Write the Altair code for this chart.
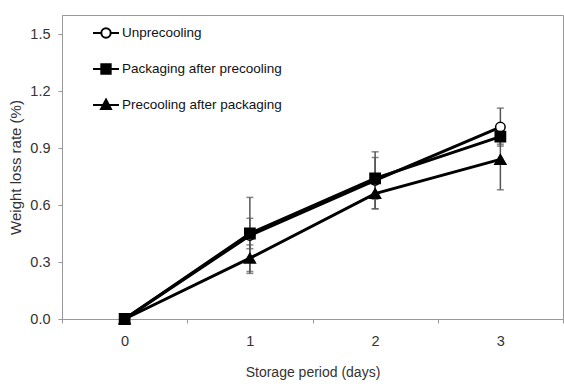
import altair as alt
import pandas as pd

days = [0, 1, 2, 3]
series_names = ["Unprecooling", "Packaging after precooling", "Precooling after packaging"]
unprecooling = [0.0, 0.44, 0.73, 1.01]
unprecooling_err = [0.0, 0.20, 0.15, 0.10]
pack_after_pre = [0.0, 0.45, 0.74, 0.96]
pack_after_pre_err = [0.0, 0.08, 0.11, 0.04]
pre_after_pack = [0.0, 0.32, 0.66, 0.84]
pre_after_pack_err = [0.0, 0.07, 0.08, 0.16]
y_ticks = [0.0, 0.3, 0.6, 0.9, 1.2, 1.5]

rows = []
for name, vals, errs in [
    (series_names[0], unprecooling, unprecooling_err),
    (series_names[1], pack_after_pre, pack_after_pre_err),
    (series_names[2], pre_after_pack, pre_after_pack_err),
]:
    for d, v, e in zip(days, vals, errs):
        rows.append({"day": d, "series": name, "value": v, "err": e,
                     "lo": v - e, "hi": v + e})
df = pd.DataFrame(rows)

FONT = "'Liberation Sans Narrow', 'Liberation Sans', sans-serif"
TXT = "#333333"

x = alt.X("day:O", scale=alt.Scale(type="band", paddingInner=0, paddingOuter=0),
          axis=alt.Axis(title="Storage period (days)", labelAngle=0, tickBand="extent",
                        labelPadding=11, titlePadding=18))
y = alt.Y("value:Q", scale=alt.Scale(domain=[0, 1.5]),
          axis=alt.Axis(title="Weight loss rate (%)", values=y_ticks, format=".1f",
                        grid=False, labelPadding=8, titlePadding=6, titleFontSize=15))

base = alt.Chart(df)

err_rule = base.transform_filter("datum.err > 0").mark_rule(color="#555555", strokeWidth=1.5).encode(
    x=x, y=alt.Y("lo:Q"), y2="hi:Q")
cap_lo = base.transform_filter("datum.err > 0").mark_tick(color="#555555", size=7, thickness=1.5).encode(
    x=x, y=alt.Y("lo:Q"))
cap_hi = base.transform_filter("datum.err > 0").mark_tick(color="#555555", size=7, thickness=1.5).encode(
    x=x, y=alt.Y("hi:Q"))

lines = base.mark_line(color="black", strokeWidth=3).encode(
    x=x, y=y, detail="series:N")

points = base.mark_point(filled=True, stroke="black", strokeWidth=1.5, opacity=1).encode(
    x=x, y=y,
    shape=alt.Shape("series:N", scale=alt.Scale(domain=series_names,
                                                range=["circle", "square", "triangle-up"]),
                    legend=None),
    fill=alt.Fill("series:N", scale=alt.Scale(domain=series_names,
                                              range=["white", "black", "black"]),
                  legend=None),
    size=alt.Size("series:N", scale=alt.Scale(domain=series_names, range=[90, 121, 110]),
                  legend=None),
)

leg_paths = [
    "M-1,0H-0.36M0.36,0H1M0.36,0A0.36,0.36 0 1 1 -0.36,0A0.36,0.36 0 1 1 0.36,0Z",
    "M-1,0H1M-0.36,-0.36H0.36V0.36H-0.36Z",
    "M-1,0H1M0,-0.42L0.38,0.3H-0.38Z",
]
legend = alt.Legend(title=None, orient="none", legendX=30, legendY=4, padding=0,
                    symbolSize=676, symbolStrokeColor="black", symbolStrokeWidth=2,
                    labelOffset=2, rowPadding=13, labelFontSize=13.5, labelColor="#111111",
                    labelFont=FONT, symbolOpacity=1)
legend_layer = base.transform_filter("false").mark_point(
    filled=True, stroke="black", strokeWidth=2, opacity=1).encode(
    x=x, y=y,
    shape=alt.Shape("series:N", scale=alt.Scale(domain=series_names, range=leg_paths),
                    legend=legend, sort=series_names),
    fill=alt.Fill("series:N", scale=alt.Scale(domain=series_names,
                                              range=["white", "black", "black"]),
                  legend=legend, sort=series_names),
    stroke=alt.Stroke("series:N", scale=alt.Scale(domain=series_names,
                                                  range=["black", "black", "black"]),
                      legend=legend, sort=series_names),
)

chart = alt.layer(err_rule, cap_lo, cap_hi, lines, points, legend_layer).resolve_scale(
    shape="independent", fill="independent", size="independent", stroke="independent"
).properties(
    width=501, height=304,
    autosize=alt.AutoSizeParams(type="none"),
    padding={"left": 62, "top": 15, "right": 1, "bottom": 65},
    background="white",
).configure_view(stroke="#999999", strokeWidth=1).configure_axis(
    domainColor="#999999", tickColor="#999999", tickSize=4,
    labelFont=FONT, titleFont=FONT, labelFontSize=14.5, titleFontSize=14,
    labelColor=TXT, titleColor=TXT, titleFontWeight="normal",
)

chart.save("out.html", embed_options={"renderer": "svg", "actions": False})
